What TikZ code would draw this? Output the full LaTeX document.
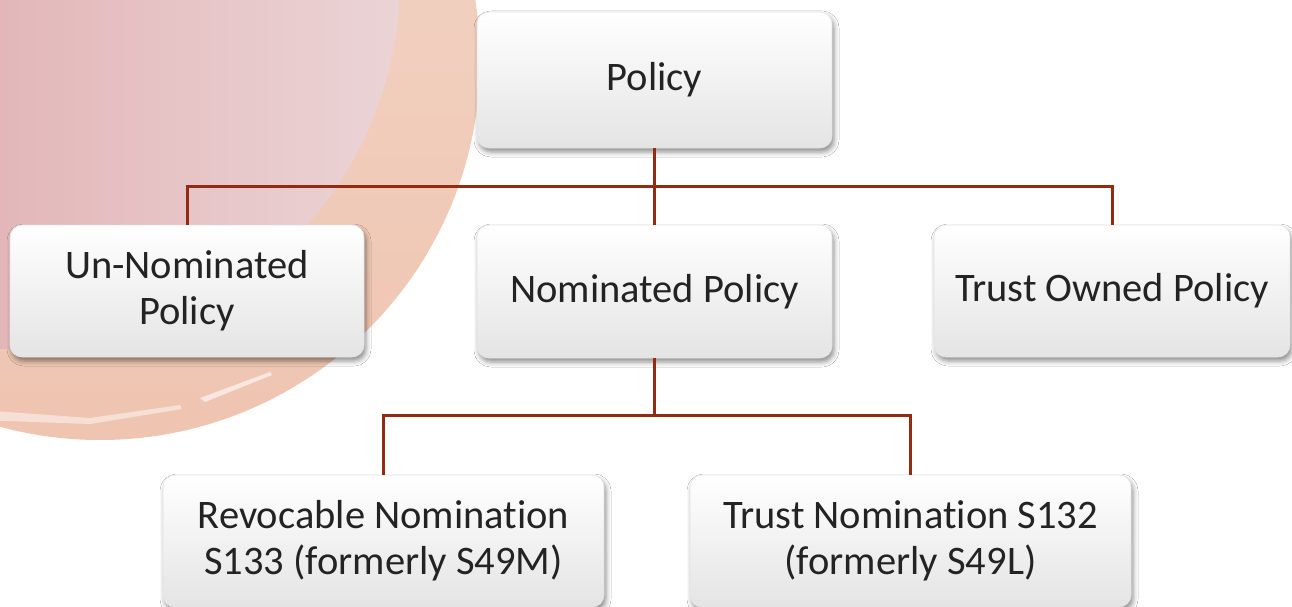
\documentclass[tikz,border=0pt]{standalone}
\usepackage{fontspec}
\setmainfont{Carlito}[RawFeature={-liga}]
\usetikzlibrary{shadows.blur}
\definecolor{linkred}{RGB}{146,43,18}
\definecolor{peachtop}{RGB}{243,216,202}
\definecolor{peachlow}{RGB}{239,196,176}
\definecolor{roseleft}{RGB}{227,183,185}
\definecolor{roseright}{RGB}{235,212,214}
\definecolor{boxgray}{RGB}{228,228,228}
\definecolor{inktext}{RGB}{35,35,35}
\tikzset{
  card/.style={rectangle, rounded corners=12pt, inner sep=0pt,
    top color=white, middle color=white, bottom color=boxgray,
    draw=gray!20, line width=0.6pt,
    blur shadow={shadow xshift=2pt, shadow yshift=-4pt, shadow blur radius=5pt, shadow opacity=45},
    align=center, text=inktext,
    font=\fontsize{40.5}{46}\selectfont},
  link/.style={draw=linkred, line width=3pt}
}
\begin{document}
\begin{tikzpicture}[x=1pt, y=-1pt]
\useasboundingbox (0,0) rectangle (1292,607);
\clip (0,0) rectangle (1292,607);
\fill[white] (0,0) rectangle (1292,607);

% watercolour wash behind the left branch
\begin{scope}
  \clip (100,60) circle (380pt);
  \shade[top color=peachtop, bottom color=peachlow] (-300,-340) rectangle (500,450);
  \clip (30,-20) circle (370pt);
  \shade[left color=roseleft, right color=roseright] (0,-20) rectangle (400,360);
  \shade[left color=roseleft, right color=roseright] (-30,-20) rectangle (0,360);
\end{scope}
\begin{scope}
  \clip (100,60) circle (380pt);
  \fill[white, opacity=0.45] (-20,410) -- (90,418) -- (180,405) -- (182,409) -- (90,424) -- (-20,420) -- cycle;
  \fill[white, opacity=0.6] (200,398) -- (270,372) -- (272,375) -- (205,402) -- cycle;
\end{scope}

% top level
\node[card, minimum width=355pt, minimum height=136pt] (policy) at (654.5,80) {Policy};

% second level
\node[card, minimum width=354pt, minimum height=132pt] (unnom) at (187,291) {Un-Nominated\\Policy};
\node[card, minimum width=355pt, minimum height=133pt] (nom) at (654.5,291.5) {Nominated Policy};
\node[card, minimum width=356pt, minimum height=132pt] (trust) at (1112,291) {Trust Owned Policy};

% third level
\node[card, minimum width=441pt, minimum height=132pt] (revoc) at (383.5,541) {Revocable Nomination\\S133 (formerly S49M)};
\node[card, minimum width=441pt, minimum height=132pt] (trnom) at (910.5,541) {Trust Nomination S132\\(formerly S49L)};

% bus lines
\coordinate (busA) at (0,186);
\coordinate (busB) at (0,415);

\draw[link] (unnom.north) -- (unnom.north |- busA) -- (trust.north |- busA) -- (trust.north);
\draw[link] (policy.south) -- (nom.north);
\draw[link] (revoc.north) -- (revoc.north |- busB) -- (trnom.north |- busB) -- (trnom.north);
\draw[link] (nom.south) -- (nom.south |- busB);
\end{tikzpicture}
\end{document}
